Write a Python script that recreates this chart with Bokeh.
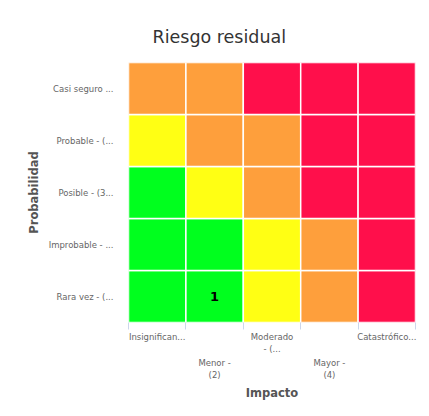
from bokeh.plotting import figure
from bokeh.models import Range1d, FixedTicker, LinearAxis, Title, ColumnDataSource
from bokeh.embed import file_html
from bokeh.resources import INLINE
from bokeh.core.properties import value

# ---------------- data ----------------
title_text = "Riesgo residual"
x_title = "Impacto"
y_title = "Probabilidad"
impacto_labels = ["Insignifican...", "Menor -\n(2)", "Moderado\n- (...", "Mayor -\n(4)", "Catastrófico..."]
probabilidad_labels = ["Rara vez - (...", "Improbable - ...", "Posible - (3...", "Probable - (...", "Casi seguro ..."]
# risk level per cell: rows from Rara vez (bottom) to Casi seguro (top), columns Insignificante..Catastrófico
risk_levels = [
    [1, 1, 2, 3, 4],
    [1, 1, 2, 3, 4],
    [1, 2, 3, 4, 4],
    [2, 3, 3, 4, 4],
    [3, 3, 4, 4, 4],
]
level_colors = {1: "#00ff1e", 2: "#ffff14", 3: "#fe9f3c", 4: "#ff0f4b"}
count_cols = [1]
count_rows = [0]
count_values = ["1"]

FONT = "DejaVu Sans"
W, H = 421, 400
ML, MR, MT, MB = 128, 6, 62, 78
ncol, nrow = len(impacto_labels), len(probabilidad_labels)

xs, ys, cs = [], [], []
for r, row in enumerate(risk_levels):
    for c, lvl in enumerate(row):
        xs.append(c + 0.5)
        ys.append(r + 0.5)
        cs.append(level_colors[lvl])
src = ColumnDataSource(dict(x=xs, y=ys, color=cs))

p = figure(width=W, height=H, output_backend="svg", toolbar_location=None,
           x_range=Range1d(0, ncol), y_range=Range1d(0, nrow),
           x_axis_location=None,
           min_border_left=ML, min_border_right=MR, min_border_top=MT, min_border_bottom=MB,
           background_fill_color="white", border_fill_color="white")
p.outline_line_color = None
p.xgrid.visible = False
p.ygrid.visible = False

p.rect(x="x", y="y", width=1, height=1, fill_color="color", line_color="white",
       line_width=1.5, source=src)

p.text(x=[c + 0.5 for c in count_cols], y=[r + 0.5 for r in count_rows], text=count_values,
       text_align="center", text_baseline="middle", text_font=value(FONT),
       text_font_style="bold", text_font_size="13px", text_color="black")

# title
p.title.text = title_text
p.title.align = "left"
p.title.offset = 24
p.title.standoff = 31
p.title.text_font = FONT
p.title.text_font_size = "17.5px"
p.title.text_font_style = "normal"
p.title.text_color = "#333333"

# staggered x labels: two axes (odd / even categories), boundary ticks as minor ticks
def make_xaxis(idx, with_ticks, standoff):
    ax = LinearAxis()
    majors = [i + 0.5 for i in idx]
    ax.ticker = FixedTicker(ticks=majors,
                            minor_ticks=list(range(ncol + 1)) if with_ticks else [])
    ax.major_label_overrides = {i + 0.5: impacto_labels[i] for i in idx}
    ax.axis_line_color = None
    ax.major_tick_line_color = None
    ax.major_tick_in = 0
    ax.major_tick_out = 0
    ax.minor_tick_in = 0
    ax.minor_tick_out = 7
    ax.minor_tick_line_color = "#ccd6eb" if with_ticks else None
    ax.major_label_standoff = standoff
    ax.major_label_text_font = FONT
    ax.major_label_text_font_size = "8.5px"
    ax.major_label_text_color = "#666666"
    ax.major_label_text_line_height = 1.25
    return ax

p.add_layout(make_xaxis([0, 2, 4], True, 2), "below")
p.add_layout(make_xaxis([1, 3], False, 0), "below")
p.add_layout(Title(text=x_title, align="center", text_font=FONT, text_font_style="bold",
                   text_font_size="11.5px", text_color="#555555", standoff=1), "below")

# y axis
ya = p.yaxis[0]
ya.ticker = FixedTicker(ticks=[i + 0.5 for i in range(nrow)])
ya.major_label_overrides = {i + 0.5: lab for i, lab in enumerate(probabilidad_labels)}
ya.axis_line_color = None
ya.major_tick_line_color = None
ya.minor_tick_line_color = None
ya.major_tick_out = 0
ya.major_tick_in = 0
ya.major_label_standoff = 15
ya.major_label_text_font = FONT
ya.major_label_text_font_size = "8.5px"
ya.major_label_text_color = "#666666"
ya.axis_label = y_title
ya.axis_label_text_font = FONT
ya.axis_label_text_font_style = "bold"
ya.axis_label_text_font_size = "11.5px"
ya.axis_label_text_color = "#555555"
ya.axis_label_standoff = 5

open("out.html", "w").write(file_html(p, INLINE))
